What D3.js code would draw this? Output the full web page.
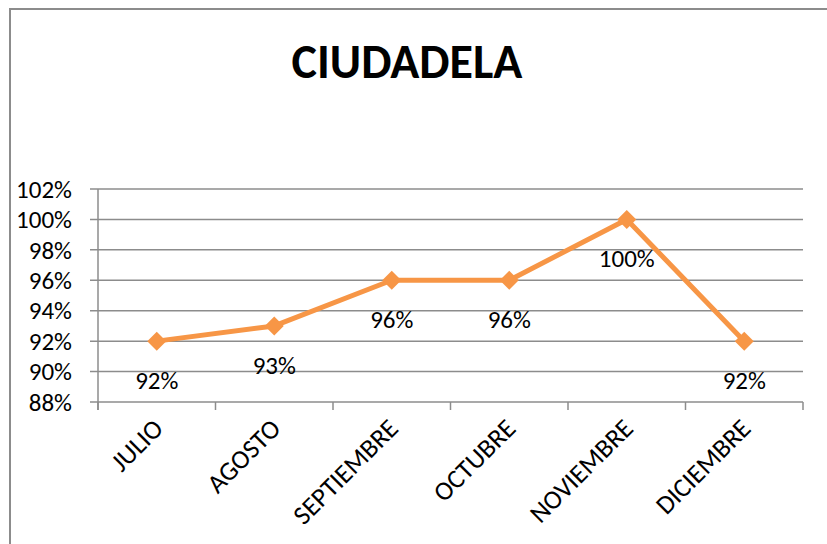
<!DOCTYPE html>
<html>
<head>
<meta charset="utf-8">
<script src="https://cdn.jsdelivr.net/npm/d3@7"></script>
<style>
  body { margin: 0; background: #fff; }
</style>
</head>
<body>
<div class="chart"></div>
<script>
// chart data
let months = ["JULIO", "AGOSTO", "SEPTIEMBRE", "OCTUBRE", "NOVIEMBRE", "DICIEMBRE"];
let values = [0.92, 0.93, 0.96, 0.96, 1.0, 0.92];
let yTicks = [0.88, 0.9, 0.92, 0.94, 0.96, 0.98, 1.0, 1.02];
let title = "CIUDADELA";

let width = 827;
let height = 544;
let lineColor = "#f79646";
let gridColor = "#8c8c8c";
let font = "Carlito, Calibri, 'Open Sans', sans-serif";
let fontSize = 25;

let plot = { left: 98, right: 803, top: 189, bottom: 402 };

let svg = d3
  .select(".chart")
  .append("svg")
  .attr("width", width)
  .attr("height", height);

// outer border of chart area
svg
  .append("rect")
  .attr("x", 10)
  .attr("y", 9)
  .attr("width", width)
  .attr("height", height)
  .attr("fill", "#fff")
  .attr("stroke", "#8c8c8c")
  .attr("stroke-width", 2);

// title
svg
  .append("text")
  .attr("x", 407)
  .attr("y", 78)
  .attr("text-anchor", "middle")
  .attr("font-family", font)
  .attr("font-weight", "bold")
  .attr("font-size", 48)
  .attr("fill", "#000")
  .text(title);

// scales
let x = d3.scaleBand().domain(months).range([plot.left, plot.right]);
let y = d3.scaleLinear().domain([0.88, 1.02]).range([plot.bottom, plot.top]);

// gridlines
svg
  .append("g")
  .selectAll("line")
  .data(yTicks)
  .enter()
  .append("line")
  .attr("x1", plot.left - 8)
  .attr("x2", plot.right)
  .attr("y1", (d) => y(d))
  .attr("y2", (d) => y(d))
  .attr("stroke", gridColor)
  .attr("stroke-width", 1.5);

// y axis line
svg
  .append("line")
  .attr("x1", plot.left)
  .attr("x2", plot.left)
  .attr("y1", plot.top)
  .attr("y2", plot.bottom + 8)
  .attr("stroke", gridColor)
  .attr("stroke-width", 1.5);

// y tick labels
svg
  .append("g")
  .selectAll("text")
  .data(yTicks)
  .enter()
  .append("text")
  .attr("x", plot.left - 26)
  .attr("y", (d) => y(d))
  .attr("dy", "0.35em")
  .attr("text-anchor", "end")
  .attr("font-family", font)
  .attr("font-size", fontSize)
  .attr("fill", "#000")
  .text((d) => Math.round(d * 100) + "%");

// x axis ticks at band boundaries
let boundaries = months.map((m) => x(m)).concat([plot.right]);
svg
  .append("g")
  .selectAll("line")
  .data(boundaries)
  .enter()
  .append("line")
  .attr("x1", (d) => d)
  .attr("x2", (d) => d)
  .attr("y1", plot.bottom)
  .attr("y2", plot.bottom + 8)
  .attr("stroke", gridColor)
  .attr("stroke-width", 1.5);

// x labels rotated
svg
  .append("g")
  .selectAll("text")
  .data(months)
  .enter()
  .append("text")
  .attr(
    "transform",
    (d) => "translate(" + (x(d) + x.bandwidth() / 2 + 8) + "," + (plot.bottom + 28) + ") rotate(-45)"
  )
  .attr("text-anchor", "end")
  .attr("font-family", font)
  .attr("font-size", 26.5)
  .attr("fill", "#000")
  .text((d) => d);

// line
let line = d3
  .line()
  .x((d, i) => x(months[i]) + x.bandwidth() / 2)
  .y((d) => y(d));

svg
  .append("path")
  .datum(values)
  .attr("d", line)
  .attr("fill", "none")
  .attr("stroke", lineColor)
  .attr("stroke-width", 5)
  .attr("stroke-linejoin", "round");

// diamond markers
svg
  .append("g")
  .selectAll("path")
  .data(values)
  .enter()
  .append("path")
  .attr("d", d3.symbol().type(d3.symbolDiamond2).size(230))
  .attr("transform", (d, i) => "translate(" + (x(months[i]) + x.bandwidth() / 2) + "," + y(d) + ")")
  .attr("fill", lineColor);

// data labels
svg
  .append("g")
  .selectAll("text")
  .data(values)
  .enter()
  .append("text")
  .attr("x", (d, i) => x(months[i]) + x.bandwidth() / 2)
  .attr("y", (d) => y(d) + 39)
  .attr("dy", "0.35em")
  .attr("text-anchor", "middle")
  .attr("font-family", font)
  .attr("font-size", fontSize)
  .attr("fill", "#000")
  .text((d) => Math.round(d * 100) + "%");
</script>
</body>
</html>
